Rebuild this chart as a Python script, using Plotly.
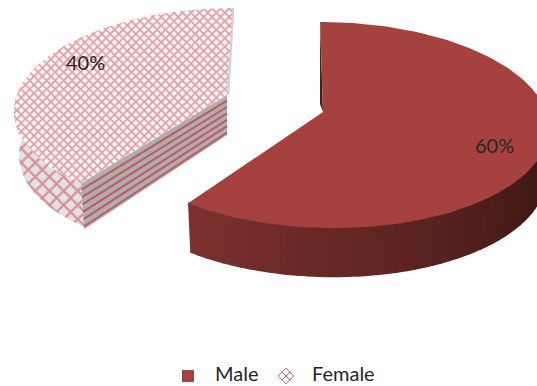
import numpy as np
import plotly.graph_objects as go

categories = ["Male", "Female"]
shares = [60, 40]
share_labels = ["60%", "40%"]

W, H = 537, 386
MALE_TOP = "#a5423f"
FEMALE_LINE = "#cc3f4d"
FEMALE_KEY = "#d4525e"
FONT = "Lato, 'Open Sans', sans-serif"
TEXT = "#262626"

# Projection of each exploded wedge: tilted circle with slight perspective.
MALE_VIEW = dict(ax=323, ay=112, xr=326, R=220, k=101.4, p=0.126, s=0.066, depth=48, shrink=0.985)
FEMALE_VIEW = dict(ax=227, ay=95, xr=224.8, R=208, k=98.0, p=0.126, s=-0.085, depth=44, shrink=0.985)


def rim(deg, view, lower=False):
    """Screen position of the circle edge at a clockwise angle from 12 o'clock."""
    t = np.radians(deg)
    u, v = np.sin(t), np.cos(t)
    w = 1 + view["p"] * v
    dy = -view["k"] * v / w
    scale = view["shrink"] if lower else 1.0
    x = view["xr"] + scale * view["R"] * u / w + view["s"] * dy
    y = view["ay"] + dy + (view["depth"] if lower else 0)
    return x, y


def top_face(a0, a1, view):
    ang = np.linspace(a0, a1, 160)
    x, y = rim(ang, view)
    return np.r_[view["ax"], x, view["ax"]], np.r_[view["ay"], y, view["ay"]]


def mix(c0, c1, f):
    return "rgb(%d,%d,%d)" % tuple(round(a + (b - a) * f) for a, b in zip(c0, c1))


fig = go.Figure()


def poly(x, y, **kw):
    fig.add_trace(go.Scatter(x=x, y=y, mode="lines", fill="toself", line=dict(width=0),
                             hoverinfo="skip", showlegend=False, **kw))


# Wedge angles follow from the shares.
male_end = 360 * shares[0] / sum(shares)
female_start, female_end = male_end, 360.0

# Male: shaded outer wall built from narrow strips, dark on the right.
edges = np.linspace(male_end, 80, 60)
for i in range(len(edges) - 1):
    a0, a1 = edges[i], edges[i + 1]
    xt, yt = rim(np.array([a0, a1]), MALE_VIEW)
    xb, yb = rim(np.array([a1, a0]), MALE_VIEW, lower=True)
    f = min(1.0, i / 42)
    colour = mix((124, 49, 46), (64, 25, 22), f)
    fig.add_trace(go.Scatter(x=np.r_[xt, xb], y=np.r_[yt, yb], mode="lines", fill="toself",
                             fillcolor=colour, line=dict(width=2.5, color=colour),
                             hoverinfo="skip", showlegend=False))

# Male: thin inner wall visible along the 12 o'clock cut.
sx, sy = rim(0.0, MALE_VIEW)
poly([sx, MALE_VIEW["ax"], MALE_VIEW["ax"] - 3, sx], [sy, MALE_VIEW["ay"], MALE_VIEW["ay"] - 8, sy],
     fillcolor="#4a1c19")

x, y = top_face(0, male_end, MALE_VIEW)
poly(x, y, fillcolor=MALE_TOP)

# Female: outer wall with a coarse cross hatch.
ang = np.linspace(female_start, 290, 60)
xt, yt = rim(ang, FEMALE_VIEW)
xb, yb = rim(ang[::-1], FEMALE_VIEW, lower=True)
fig.add_trace(go.Scatter(x=np.r_[xt, xb + 2], y=np.r_[yt, yb], mode="lines", fill="toself",
                         line=dict(width=0), hoverinfo="skip", showlegend=False,
                         fillpattern=dict(shape="x", fgcolor=FEMALE_LINE, bgcolor="#e2e2e2",
                                          size=10, solidity=0.4)))

# Female: cut wall facing the viewer, grey with stripes along its length.
cx, cy = rim(female_start, FEMALE_VIEW)
ax, ay = FEMALE_VIEW["ax"], FEMALE_VIEW["ay"]
depth_in, depth_out = 40, 46
poly([ax, cx, cx + 3, ax], [ay, cy, cy + depth_out, ay + depth_in], fillcolor="#aeaeae")
for frac in (0.14, 0.3, 0.46, 0.62, 0.78, 0.94):
    fig.add_trace(go.Scatter(x=[ax, cx + 3 * frac], y=[ay + depth_in * frac, cy + depth_out * frac],
                             mode="lines", line=dict(width=2, color="#c4585f"),
                             hoverinfo="skip", showlegend=False))

# Female: top face and the light sliver on its far cut.
ex, ey = rim(female_end, FEMALE_VIEW)
fig.add_trace(go.Scatter(x=[ex + 1, ax + 1], y=[ey, ay], mode="lines",
                         line=dict(width=2.5, color="#cfd2d2"), hoverinfo="skip", showlegend=False))
x, y = top_face(female_start, female_end, FEMALE_VIEW)
fig.add_trace(go.Scatter(x=x, y=y, mode="lines", fill="toself", line=dict(width=0),
                         hoverinfo="skip", showlegend=False,
                         fillpattern=dict(shape="x", fgcolor=FEMALE_LINE, bgcolor="white",
                                          size=6, solidity=0.55)))

# Key below the pie: a swatch and a name for each category.
KEY_Y = 376
KEY_TEXT_Y = 373
KEY_SWATCH_X = [188, 286]
KEY_TEXT_X = [215, 312]
fig.add_trace(go.Scatter(x=[KEY_SWATCH_X[0]], y=[KEY_Y], mode="markers", hoverinfo="skip", showlegend=False,
                         marker=dict(symbol="square", size=12, color=MALE_TOP)))
fig.add_trace(go.Scatter(x=[KEY_SWATCH_X[1]], y=[KEY_Y], mode="markers", hoverinfo="skip", showlegend=False,
                         marker=dict(symbol="diamond-x-open", size=12, color=FEMALE_KEY,
                                     line=dict(width=1, color=FEMALE_KEY))))

annotations = [
    dict(x=494, y=145, text=share_labels[0], showarrow=False,
         font=dict(family=FONT, size=20, color=TEXT)),
    dict(x=85, y=62, text=share_labels[1], showarrow=False,
         font=dict(family=FONT, size=20, color=TEXT)),
]
for name, tx in zip(categories, KEY_TEXT_X):
    annotations.append(dict(x=tx, y=KEY_TEXT_Y, text=name, showarrow=False, xanchor="left",
                            yanchor="middle", xshift=-2, font=dict(family=FONT, size=20, color=TEXT)))

fig.update_layout(
    width=W, height=H, margin=dict(l=0, r=0, t=0, b=0, autoexpand=False),
    paper_bgcolor="white", plot_bgcolor="white",
    xaxis=dict(range=[0, W], visible=False, fixedrange=True),
    yaxis=dict(range=[H, 0], visible=False, fixedrange=True),
    annotations=annotations,
    showlegend=False,
)

fig.write_html("out.html", config=dict(displayModeBar=False))
